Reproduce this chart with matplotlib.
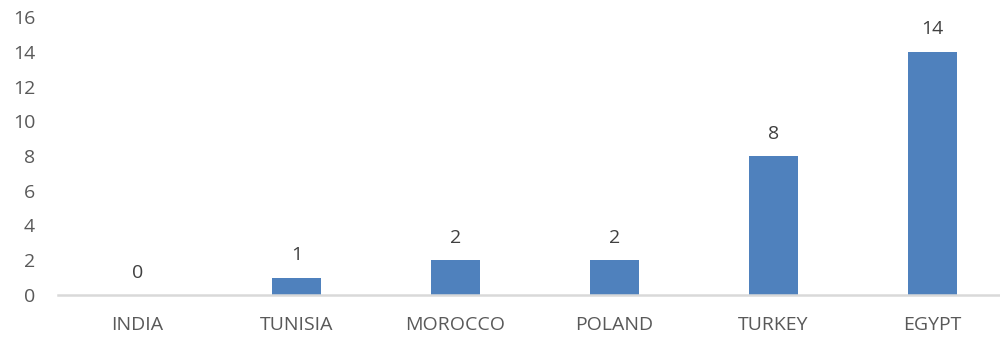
import matplotlib.pyplot as plt

countries = ['INDIA', 'TUNISIA', 'MOROCCO', 'POLAND', 'TURKEY', 'EGYPT']
counts = [0, 1, 2, 2, 8, 14]
y_ticks = [0, 2, 4, 6, 8, 10, 12, 14, 16]

plt.rcParams['font.family'] = ['Open Sans', 'DejaVu Sans']
text_color = '#595959'

fig = plt.figure(figsize=(10, 3.41), dpi=100)
ax = fig.add_axes([0.058, 0.135, 0.954, 0.815])

x = range(len(countries))
bars = ax.bar(x, counts, width=0.314, color='#4F81BD', zorder=2)

# value labels above each bar
for rect, val in zip(bars, counts):
    ax.annotate(str(val), (rect.get_x() + rect.get_width() / 2, rect.get_height()),
                xytext=(0, 12.5), textcoords='offset points', ha='center', va='baseline',
                fontsize=14, color='#404040')

ax.set_xlim(-0.5, len(countries) - 0.5)
ax.set_ylim(0, 16)
ax.set_yticks(y_ticks)
ax.set_xticks(list(x))
ax.set_xticklabels(countries)
ax.tick_params(axis='both', length=0, labelsize=14, colors=text_color)
ax.tick_params(axis='x', pad=15)
ax.tick_params(axis='y', pad=16.5)

for side in ['top', 'right', 'left']:
    ax.spines[side].set_visible(False)
ax.spines['bottom'].set_color('#d9d9d9')
ax.spines['bottom'].set_linewidth(1.8)

fig.savefig('out.png', dpi=100)
